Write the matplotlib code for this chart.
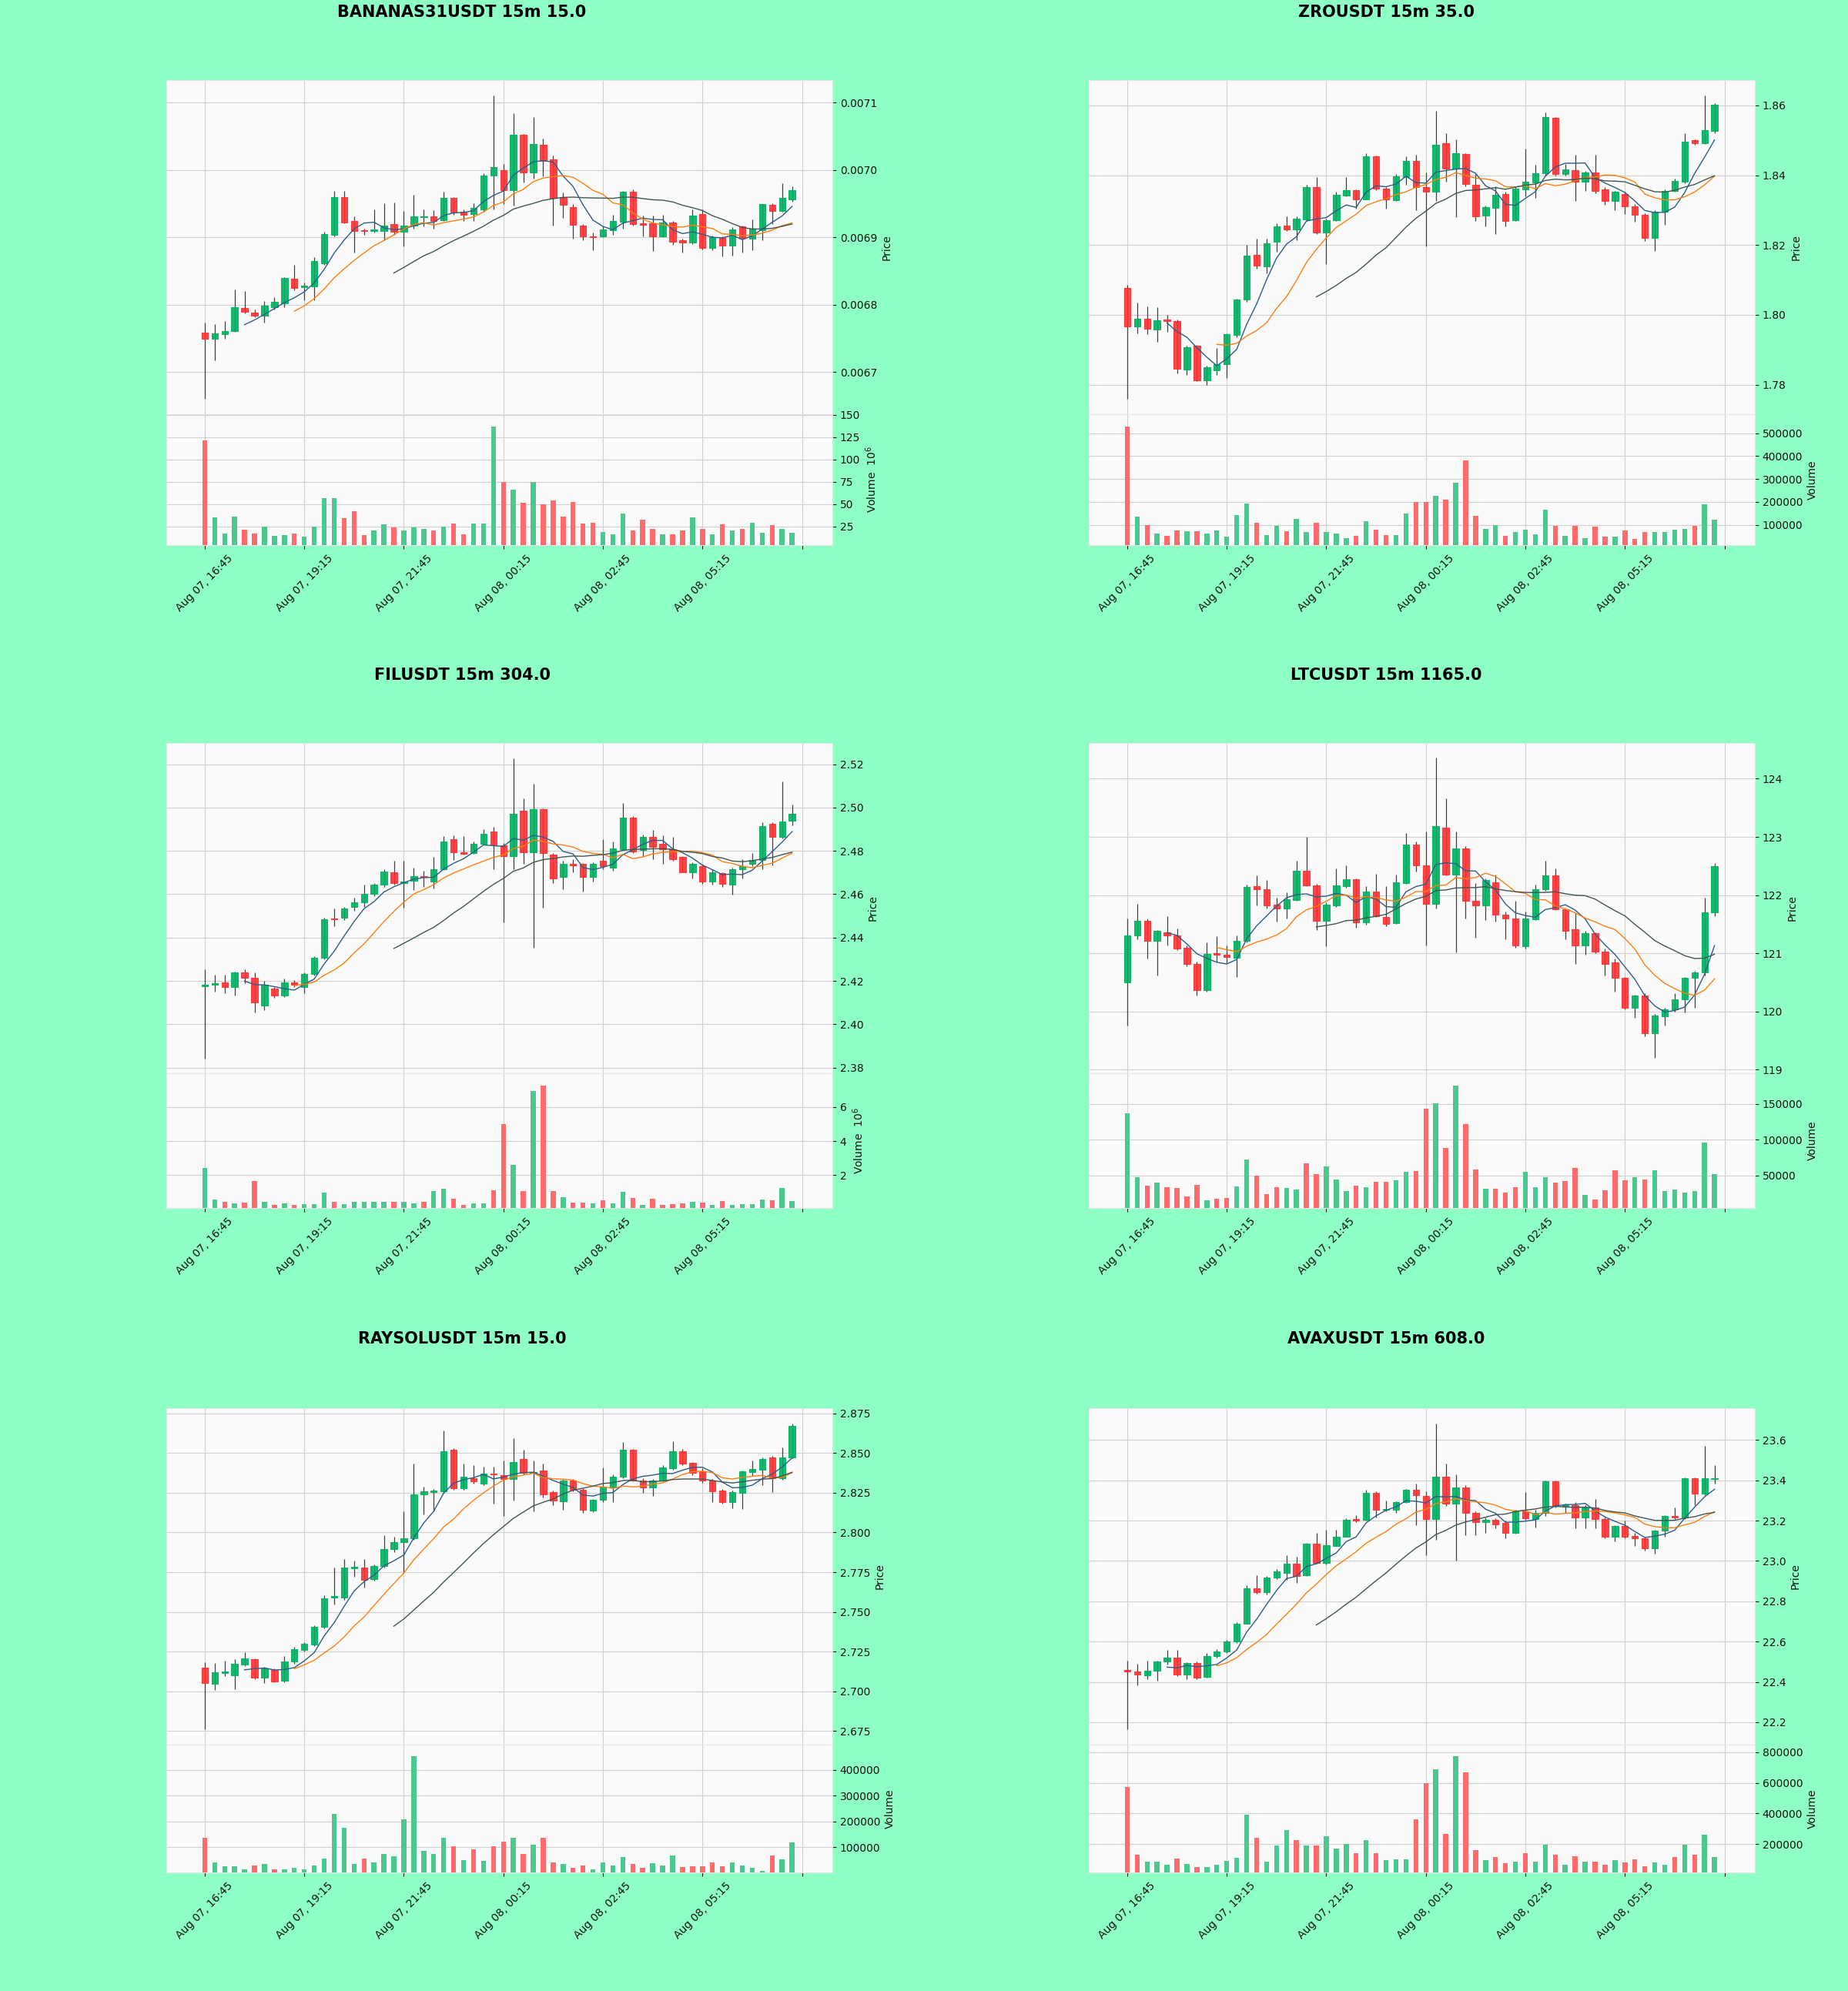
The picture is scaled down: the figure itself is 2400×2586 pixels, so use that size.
import matplotlib.pyplot as plt
from matplotlib.ticker import MultipleLocator, FormatStrFormatter
import numpy as np
import pandas as pd

# 15 minute candles, same time axis for every panel
times = pd.date_range("2025-08-07 16:45", periods=60, freq="15min")

# ---------------- BANANAS31USDT ----------------
banana_open = [0.006759, 0.006750, 0.006756, 0.006761, 0.006795, 0.006788, 0.006784, 0.006796, 0.006802, 0.006839,
               0.006826, 0.006827, 0.006862, 0.006904, 0.006960, 0.006924, 0.006911, 0.006910, 0.006910, 0.006920,
               0.006908, 0.006917, 0.006930, 0.006931, 0.006925, 0.006959, 0.006938, 0.006935, 0.006942, 0.006992,
               0.007000, 0.006970, 0.007052, 0.006996, 0.007037, 0.007016, 0.006960, 0.006945, 0.006918, 0.006902,
               0.006901, 0.006911, 0.006923, 0.006968, 0.006921, 0.006921, 0.006902, 0.006922, 0.006896, 0.006892,
               0.006935, 0.006884, 0.006899, 0.006888, 0.006916, 0.006898, 0.006911, 0.006948, 0.006939, 0.006956]
banana_high = [0.006773, 0.006771, 0.006776, 0.006823, 0.006820, 0.006793, 0.006805, 0.006811, 0.006841, 0.006859,
               0.006833, 0.006871, 0.006908, 0.006969, 0.006969, 0.006931, 0.006913, 0.006942, 0.006951, 0.006952,
               0.006939, 0.006963, 0.006941, 0.006940, 0.006968, 0.006960, 0.006942, 0.006951, 0.006995, 0.007111,
               0.007009, 0.007084, 0.007053, 0.007079, 0.007047, 0.007021, 0.006967, 0.006949, 0.006920, 0.006907,
               0.006916, 0.006933, 0.006969, 0.006971, 0.006932, 0.006932, 0.006933, 0.006924, 0.006898, 0.006942,
               0.006942, 0.006903, 0.006902, 0.006915, 0.006918, 0.006927, 0.006950, 0.006951, 0.006980, 0.006976]
banana_low = [0.006660, 0.006718, 0.006749, 0.006760, 0.006787, 0.006782, 0.006773, 0.006793, 0.006796, 0.006821,
              0.006807, 0.006807, 0.006859, 0.006902, 0.006921, 0.006878, 0.006904, 0.006907, 0.006896, 0.006904,
              0.006887, 0.006913, 0.006916, 0.006913, 0.006924, 0.006933, 0.006924, 0.006924, 0.006938, 0.006942,
              0.006949, 0.006947, 0.006981, 0.006987, 0.006991, 0.006918, 0.006929, 0.006898, 0.006896, 0.006881,
              0.006900, 0.006904, 0.006913, 0.006918, 0.006902, 0.006880, 0.006900, 0.006889, 0.006878, 0.006890,
              0.006882, 0.006881, 0.006872, 0.006873, 0.006878, 0.006881, 0.006896, 0.006920, 0.006938, 0.006953]
banana_close = [0.006749, 0.006757, 0.006761, 0.006796, 0.006789, 0.006784, 0.006799, 0.006804, 0.006840, 0.006825,
                0.006828, 0.006865, 0.006905, 0.006960, 0.006922, 0.006910, 0.006909, 0.006912, 0.006918, 0.006908,
                0.006917, 0.006931, 0.006931, 0.006924, 0.006959, 0.006937, 0.006934, 0.006944, 0.006992, 0.007004,
                0.006970, 0.007052, 0.006996, 0.007039, 0.007013, 0.006959, 0.006948, 0.006919, 0.006902, 0.006900,
                0.006912, 0.006924, 0.006968, 0.006920, 0.006919, 0.006902, 0.006922, 0.006893, 0.006892, 0.006932,
                0.006884, 0.006900, 0.006888, 0.006912, 0.006899, 0.006913, 0.006949, 0.006939, 0.006959, 0.006970]
banana_volume_m = [121, 35, 17, 36, 21, 17, 25, 14, 15, 17, 13, 25, 57, 57, 34, 42, 15, 20, 27, 24,
                   20, 24, 22, 20, 25, 28, 16, 28, 28, 137, 75, 66, 51, 75, 50, 54, 36, 52, 28, 29,
                   19, 16, 39, 20, 32, 22, 16, 16, 20, 35, 22, 16, 27, 20, 22, 29, 18, 26, 22, 18]

# ---------------- ZROUSDT ----------------
zro_open = [1.8077, 1.7967, 1.7990, 1.7958, 1.7986, 1.7982, 1.7843, 1.7911, 1.7812, 1.7842,
            1.7858, 1.7942, 1.8043, 1.8171, 1.8139, 1.8210, 1.8255, 1.8244, 1.8274, 1.8365,
            1.8236, 1.8272, 1.8341, 1.8358, 1.8331, 1.8455, 1.8362, 1.8329, 1.8395, 1.8442,
            1.8366, 1.8352, 1.8492, 1.8420, 1.8461, 1.8373, 1.8285, 1.8307, 1.8346, 1.8272,
            1.8360, 1.8380, 1.8405, 1.8565, 1.8403, 1.8414, 1.8382, 1.8408, 1.8360, 1.8326,
            1.8346, 1.8311, 1.8287, 1.8220, 1.8296, 1.8356, 1.8382, 1.8500, 1.8492, 1.8526]
zro_high = [1.8085, 1.8036, 1.8025, 1.8023, 1.8001, 1.7987, 1.7911, 1.7914, 1.7854, 1.7905,
            1.7948, 1.8047, 1.8201, 1.8219, 1.8219, 1.8262, 1.8283, 1.8283, 1.8373, 1.8395,
            1.8276, 1.8352, 1.8395, 1.8360, 1.8463, 1.8457, 1.8366, 1.8403, 1.8455, 1.8459,
            1.8408, 1.8584, 1.8521, 1.8502, 1.8463, 1.8403, 1.8313, 1.8369, 1.8352, 1.8365,
            1.8476, 1.8429, 1.8579, 1.8567, 1.8433, 1.8459, 1.8412, 1.8459, 1.8365, 1.8356,
            1.8352, 1.8317, 1.8292, 1.8300, 1.8360, 1.8390, 1.8521, 1.8502, 1.8629, 1.8607]
zro_low = [1.7759, 1.7948, 1.7945, 1.7922, 1.7952, 1.7832, 1.7828, 1.7811, 1.7800, 1.7828,
           1.7819, 1.7935, 1.8038, 1.8133, 1.8120, 1.8180, 1.8240, 1.8214, 1.8268, 1.8232,
           1.8146, 1.8268, 1.8339, 1.8305, 1.8330, 1.8358, 1.8305, 1.8326, 1.8373, 1.8300,
           1.8197, 1.8326, 1.8382, 1.8280, 1.8369, 1.8268, 1.8253, 1.8232, 1.8253, 1.8270,
           1.8339, 1.8335, 1.8399, 1.8399, 1.8399, 1.8326, 1.8354, 1.8349, 1.8315, 1.8300,
           1.8289, 1.8266, 1.8212, 1.8184, 1.8257, 1.8352, 1.8378, 1.8487, 1.8489, 1.8521]
zro_close = [1.7967, 1.7990, 1.7961, 1.7984, 1.7982, 1.7845, 1.7907, 1.7812, 1.7849, 1.7858,
             1.7945, 1.8043, 1.8170, 1.8140, 1.8206, 1.8253, 1.8244, 1.8276, 1.8365, 1.8236,
             1.8272, 1.8343, 1.8358, 1.8330, 1.8455, 1.8362, 1.8330, 1.8396, 1.8442, 1.8366,
             1.8352, 1.8487, 1.8420, 1.8463, 1.8375, 1.8283, 1.8309, 1.8345, 1.8270, 1.8362,
             1.8382, 1.8405, 1.8566, 1.8403, 1.8416, 1.8382, 1.8408, 1.8356, 1.8326, 1.8352,
             1.8311, 1.8286, 1.8220, 1.8296, 1.8356, 1.8384, 1.8496, 1.8492, 1.8530, 1.8603]
zro_volume = [530000, 134000, 99000, 62000, 50000, 76000, 73000, 71000, 63000, 76000,
              48000, 141000, 192000, 108000, 55000, 96000, 73000, 126000, 69000, 108000,
              69000, 62000, 41000, 50000, 117000, 80000, 55000, 55000, 150000, 199000,
              199000, 228000, 208000, 284000, 382000, 138000, 82000, 99000, 50000, 68000,
              80000, 57000, 166000, 96000, 50000, 96000, 41000, 93000, 48000, 48000,
              76000, 37000, 69000, 67000, 67000, 80000, 82000, 95000, 189000, 121000]

# ---------------- FILUSDT ----------------
fil_open = [2.4175, 2.4183, 2.4194, 2.4170, 2.4238, 2.4213, 2.4088, 2.4166, 2.4132, 2.4193,
            2.4170, 2.4231, 2.4306, 2.4487, 2.4490, 2.4540, 2.4562, 2.4603, 2.4643, 2.4703,
            2.4653, 2.4662, 2.4684, 2.4660, 2.4714, 2.4853, 2.4793, 2.4789, 2.4834, 2.4891,
            2.4825, 2.4775, 2.4984, 2.4792, 2.4993, 2.4782, 2.4680, 2.4741, 2.4739, 2.4680,
            2.4755, 2.4721, 2.4809, 2.4952, 2.4803, 2.4864, 2.4834, 2.4809, 2.4771, 2.4703,
            2.4730, 2.4657, 2.4698, 2.4643, 2.4714, 2.4741, 2.4758, 2.4925, 2.4864, 2.4939]
fil_high = [2.4254, 2.4227, 2.4227, 2.4243, 2.4254, 2.4238, 2.4200, 2.4170, 2.4211, 2.4204,
            2.4238, 2.4313, 2.4490, 2.4533, 2.4540, 2.4585, 2.4646, 2.4653, 2.4714, 2.4755,
            2.4755, 2.4721, 2.4707, 2.4771, 2.4867, 2.4871, 2.4869, 2.4843, 2.4901, 2.4911,
            2.4837, 2.5229, 2.5041, 2.5109, 2.4998, 2.4789, 2.4755, 2.4762, 2.4744, 2.4748,
            2.4853, 2.4843, 2.5020, 2.4959, 2.4875, 2.4898, 2.4871, 2.4864, 2.4775, 2.4748,
            2.4741, 2.4717, 2.4703, 2.4721, 2.4762, 2.4789, 2.4932, 2.4932, 2.5122, 2.5014]
fil_low = [2.3843, 2.4149, 2.4143, 2.4132, 2.4189, 2.4054, 2.4064, 2.4122, 2.4126, 2.4172,
           2.4145, 2.4224, 2.4299, 2.4453, 2.4480, 2.4524, 2.4540, 2.4592, 2.4632, 2.4643,
           2.4537, 2.4619, 2.4632, 2.4626, 2.4711, 2.4758, 2.4782, 2.4785, 2.4830, 2.4717,
           2.4469, 2.4714, 2.4741, 2.4354, 2.4537, 2.4653, 2.4622, 2.4701, 2.4612, 2.4660,
           2.4714, 2.4707, 2.4803, 2.4789, 2.4775, 2.4762, 2.4741, 2.4755, 2.4701, 2.4673,
           2.4649, 2.4646, 2.4632, 2.4598, 2.4673, 2.4730, 2.4717, 2.4735, 2.4857, 2.4918]
fil_close = [2.4181, 2.4190, 2.4172, 2.4241, 2.4213, 2.4099, 2.4183, 2.4132, 2.4193, 2.4181,
             2.4231, 2.4306, 2.4483, 2.4483, 2.4533, 2.4564, 2.4603, 2.4646, 2.4706, 2.4653,
             2.4660, 2.4684, 2.4681, 2.4714, 2.4843, 2.4793, 2.4788, 2.4834, 2.4880, 2.4826,
             2.4775, 2.4973, 2.4792, 2.4993, 2.4789, 2.4673, 2.4741, 2.4734, 2.4680, 2.4739,
             2.4728, 2.4812, 2.4952, 2.4796, 2.4864, 2.4820, 2.4809, 2.4762, 2.4703, 2.4741,
             2.4657, 2.4703, 2.4649, 2.4714, 2.4730, 2.4758, 2.4916, 2.4864, 2.4935, 2.4973]
fil_volume_m = [2.44, 0.60, 0.45, 0.36, 0.40, 1.64, 0.45, 0.28, 0.35, 0.28,
                0.33, 0.33, 0.99, 0.45, 0.33, 0.45, 0.45, 0.45, 0.45, 0.45,
                0.45, 0.36, 0.45, 1.08, 1.20, 0.63, 0.28, 0.35, 0.35, 1.13,
                4.99, 2.62, 1.08, 6.94, 7.24, 1.08, 0.72, 0.42, 0.42, 0.36,
                0.54, 0.36, 1.04, 0.68, 0.28, 0.63, 0.28, 0.31, 0.36, 0.45,
                0.42, 0.28, 0.51, 0.28, 0.31, 0.31, 0.60, 0.54, 1.24, 0.51]

# ---------------- LTCUSDT ----------------
ltc_open = [120.495, 121.311, 121.556, 121.209, 121.362, 121.311, 121.092, 120.816, 120.367, 120.995,
            120.970, 120.918, 121.209, 122.153, 122.102, 121.837, 121.770, 121.908, 122.423, 122.168,
            121.556, 121.821, 122.153, 122.270, 121.531, 122.066, 121.617, 121.515, 122.204, 122.867,
            122.510, 121.847, 123.158, 122.357, 122.801, 121.898, 121.821, 122.214, 121.668, 121.592,
            121.122, 121.582, 122.102, 122.332, 121.755, 121.413, 121.133, 121.347, 121.031, 120.837,
            120.571, 120.061, 120.276, 119.628, 119.920, 120.036, 120.204, 120.571, 120.673, 121.709]
ltc_high = [121.592, 121.847, 121.592, 121.400, 121.633, 121.429, 121.133, 120.852, 121.184, 121.286,
            121.133, 121.311, 122.179, 122.332, 122.255, 121.959, 122.051, 122.587, 122.995, 122.194,
            121.872, 122.459, 122.510, 122.280, 122.153, 122.367, 122.153, 122.347, 123.071, 122.918,
            123.097, 124.357, 123.658, 123.097, 122.842, 122.204, 122.281, 122.357, 121.719, 121.898,
            121.719, 122.179, 122.587, 122.459, 121.770, 121.694, 121.388, 121.362, 121.082, 120.903,
            120.597, 120.291, 120.316, 119.959, 120.061, 120.316, 120.597, 120.699, 121.949, 122.551]
ltc_low = [119.755, 121.235, 120.913, 120.622, 121.133, 121.056, 120.776, 120.276, 120.342, 120.852,
           120.827, 120.597, 121.184, 121.821, 121.770, 121.541, 121.592, 121.898, 122.153, 121.403,
           121.122, 121.796, 122.128, 121.439, 121.490, 121.617, 121.464, 121.500, 122.194, 122.408,
           121.133, 121.770, 122.332, 121.020, 121.592, 121.260, 121.566, 121.541, 121.245, 121.092,
           121.082, 121.566, 122.077, 121.745, 121.245, 120.816, 120.969, 121.005, 120.612, 120.342,
           120.036, 119.883, 119.577, 119.194, 119.755, 120.000, 119.985, 120.061, 120.622, 121.643]
ltc_close = [121.311, 121.556, 121.209, 121.388, 121.301, 121.082, 120.816, 120.367, 120.990, 120.969,
             120.930, 121.209, 122.143, 122.102, 121.821, 121.770, 121.923, 122.423, 122.168, 121.556,
             121.837, 122.163, 122.270, 121.531, 122.066, 121.633, 121.505, 122.214, 122.867, 122.510,
             121.847, 123.189, 122.357, 122.801, 121.898, 121.821, 122.255, 121.668, 121.592, 121.133,
             121.592, 122.102, 122.332, 121.755, 121.388, 121.133, 121.347, 121.031, 120.816, 120.571,
             120.061, 120.276, 119.628, 119.934, 120.036, 120.204, 120.571, 120.673, 121.709, 122.500]
ltc_volume = [136500, 47000, 36000, 39500, 34000, 32000, 20500, 36500, 15000, 17000,
              18400, 35000, 72000, 50000, 24000, 34000, 32000, 30000, 67000, 52000,
              62000, 44000, 28000, 36000, 34000, 41000, 41000, 43000, 55500, 56000,
              143000, 151000, 88000, 175000, 122000, 58000, 31000, 31000, 25500, 34000,
              55000, 34000, 48000, 39500, 42000, 60500, 22500, 16000, 29000, 57000,
              43000, 48000, 44000, 57000, 27600, 30000, 25500, 27600, 96000, 52000]

# ---------------- RAYSOLUSDT ----------------
ray_open = [2.7148, 2.7048, 2.7117, 2.7102, 2.7167, 2.7202, 2.7087, 2.7135, 2.7064, 2.7187,
            2.7262, 2.7294, 2.7408, 2.7590, 2.7590, 2.7775, 2.7779, 2.7706, 2.7789, 2.7894,
            2.7937, 2.7965, 2.8240, 2.8256, 2.8260, 2.8519, 2.8279, 2.8340, 2.8308, 2.8371,
            2.8360, 2.8335, 2.8462, 2.8375, 2.8390, 2.8254, 2.8198, 2.8327, 2.8269, 2.8140,
            2.8206, 2.8283, 2.8352, 2.8519, 2.8327, 2.8283, 2.8327, 2.8404, 2.8513, 2.8437,
            2.8385, 2.8327, 2.8263, 2.8192, 2.8250, 2.8383, 2.8396, 2.8471, 2.8340, 2.8473]
ray_high = [2.7183, 2.7179, 2.7192, 2.7202, 2.7244, 2.7206, 2.7154, 2.7144, 2.7221, 2.7279,
            2.7308, 2.7414, 2.7606, 2.7779, 2.7833, 2.7821, 2.7833, 2.7798, 2.7981, 2.7971,
            2.8135, 2.8433, 2.8288, 2.8273, 2.8644, 2.8529, 2.8433, 2.8423, 2.8413, 2.8413,
            2.8452, 2.8596, 2.8519, 2.8452, 2.8433, 2.8263, 2.8337, 2.8337, 2.8279, 2.8212,
            2.8410, 2.8365, 2.8571, 2.8525, 2.8340, 2.8337, 2.8423, 2.8577, 2.8525, 2.8442,
            2.8404, 2.8337, 2.8273, 2.8263, 2.8390, 2.8452, 2.8475, 2.8481, 2.8538, 2.8687]
ray_low = [2.6760, 2.7006, 2.7096, 2.7014, 2.7160, 2.7077, 2.7052, 2.7058, 2.7058, 2.7173,
           2.7250, 2.7283, 2.7398, 2.7548, 2.7577, 2.7721, 2.7654, 2.7698, 2.7779, 2.7875,
           2.7750, 2.7956, 2.8115, 2.8135, 2.8250, 2.8269, 2.8269, 2.8308, 2.8298, 2.8183,
           2.8106, 2.8202, 2.8365, 2.8135, 2.8221, 2.8173, 2.8144, 2.8260, 2.8125, 2.8129,
           2.8192, 2.8194, 2.8340, 2.8321, 2.8250, 2.8231, 2.8321, 2.8394, 2.8423, 2.8360,
           2.8313, 2.8194, 2.8183, 2.8154, 2.8150, 2.8356, 2.8298, 2.8256, 2.8333, 2.8467]
ray_close = [2.7052, 2.7121, 2.7125, 2.7171, 2.7206, 2.7087, 2.7144, 2.7062, 2.7187, 2.7264,
             2.7298, 2.7408, 2.7587, 2.7600, 2.7779, 2.7783, 2.7702, 2.7789, 2.7898, 2.7938,
             2.7965, 2.8240, 2.8260, 2.8265, 2.8510, 2.8279, 2.8352, 2.8321, 2.8371, 2.8365,
             2.8337, 2.8442, 2.8375, 2.8380, 2.8240, 2.8202, 2.8327, 2.8269, 2.8144, 2.8206,
             2.8288, 2.8352, 2.8519, 2.8327, 2.8283, 2.8327, 2.8410, 2.8510, 2.8433, 2.8375,
             2.8327, 2.8260, 2.8192, 2.8256, 2.8385, 2.8398, 2.8462, 2.8340, 2.8475, 2.8673]
ray_volume = [137000, 41000, 25000, 27000, 13000, 30000, 34000, 13000, 13000, 19000,
              13000, 30000, 56000, 228000, 176000, 34000, 56000, 41000, 75000, 66000,
              207000, 452000, 86000, 75000, 137000, 105000, 50000, 92000, 47000, 103000,
              123000, 137000, 73000, 109000, 137000, 41000, 36000, 19000, 30000, 13000,
              41000, 30000, 62000, 36000, 19000, 39000, 30000, 69000, 22000, 25000,
              25000, 41000, 25000, 41000, 28000, 19000, 8000, 67000, 53000, 120000]

# ---------------- AVAXUSDT ----------------
avax_open = [22.460, 22.452, 22.433, 22.455, 22.500, 22.521, 22.437, 22.495, 22.425, 22.528,
             22.551, 22.601, 22.690, 22.866, 22.846, 22.919, 22.942, 22.985, 22.929, 23.085,
             22.990, 23.076, 23.122, 23.209, 23.204, 23.338, 23.252, 23.252, 23.293, 23.353,
             23.323, 23.209, 23.417, 23.285, 23.364, 23.240, 23.191, 23.205, 23.187, 23.141,
             23.247, 23.209, 23.237, 23.394, 23.270, 23.278, 23.217, 23.267, 23.209, 23.119,
             23.172, 23.123, 23.111, 23.061, 23.152, 23.224, 23.217, 23.409, 23.334, 23.405]
avax_high = [22.505, 22.490, 22.505, 22.505, 22.558, 22.558, 22.498, 22.501, 22.543, 22.561,
             22.607, 22.698, 22.881, 22.929, 22.926, 22.960, 23.028, 23.020, 23.088, 23.141,
             23.156, 23.156, 23.212, 23.228, 23.353, 23.346, 23.300, 23.297, 23.358, 23.384,
             23.346, 23.682, 23.482, 23.429, 23.376, 23.247, 23.217, 23.212, 23.202, 23.255,
             23.343, 23.255, 23.399, 23.399, 23.285, 23.293, 23.278, 23.308, 23.217, 23.179,
             23.202, 23.141, 23.119, 23.156, 23.228, 23.267, 23.414, 23.414, 23.570, 23.474]
avax_low = [22.165, 22.384, 22.415, 22.407, 22.486, 22.430, 22.415, 22.415, 22.422, 22.521,
            22.543, 22.592, 22.687, 22.838, 22.834, 22.910, 22.907, 22.891, 22.925, 22.985,
            22.982, 23.073, 23.119, 23.194, 23.202, 23.217, 23.247, 23.240, 23.288, 23.179,
            23.028, 23.103, 23.273, 23.000, 23.126, 23.126, 23.141, 23.161, 23.111, 23.137,
            23.206, 23.167, 23.225, 23.267, 23.240, 23.161, 23.164, 23.161, 23.111, 23.096,
            23.111, 23.073, 23.050, 23.035, 23.119, 23.209, 23.209, 23.278, 23.328, 23.384]
avax_close = [22.452, 22.437, 22.455, 22.502, 22.521, 22.437, 22.495, 22.422, 22.528, 22.551,
              22.601, 22.690, 22.866, 22.846, 22.919, 22.947, 22.985, 22.925, 23.085, 22.990,
              23.078, 23.122, 23.206, 23.202, 23.338, 23.252, 23.258, 23.293, 23.353, 23.326,
              23.209, 23.417, 23.285, 23.364, 23.240, 23.191, 23.205, 23.182, 23.141, 23.247,
              23.212, 23.240, 23.394, 23.273, 23.278, 23.217, 23.267, 23.209, 23.119, 23.172,
              23.119, 23.111, 23.061, 23.152, 23.222, 23.217, 23.409, 23.334, 23.409, 23.409]
avax_volume = [572000, 131000, 84000, 84000, 62000, 103000, 71000, 51000, 47000, 62000,
               90000, 109000, 390000, 238000, 84000, 188000, 291000, 225000, 188000, 188000,
               253000, 169000, 201000, 141000, 225000, 141000, 94000, 98000, 98000, 360000,
               600000, 688000, 266000, 772000, 669000, 159000, 94000, 116000, 75000, 84000,
               141000, 84000, 197000, 131000, 66000, 122000, 84000, 84000, 66000, 94000,
               81000, 99000, 56000, 79000, 62000, 113000, 197000, 131000, 259000, 116000]

charts = [
    ("BANANAS31USDT 15m 15.0", banana_open, banana_high, banana_low, banana_close,
     np.array(banana_volume_m) * 1e6, 6, 0.0001, "%.4f", 25),
    ("ZROUSDT 15m 35.0", zro_open, zro_high, zro_low, zro_close,
     np.array(zro_volume), 0, 0.02, "%.2f", 100000),
    ("FILUSDT 15m 304.0", fil_open, fil_high, fil_low, fil_close,
     np.array(fil_volume_m) * 1e6, 6, 0.02, "%.2f", 2),
    ("LTCUSDT 15m 1165.0", ltc_open, ltc_high, ltc_low, ltc_close,
     np.array(ltc_volume), 0, 1, "%d", 50000),
    ("RAYSOLUSDT 15m 15.0", ray_open, ray_high, ray_low, ray_close,
     np.array(ray_volume), 0, 0.025, "%.3f", 100000),
    ("AVAXUSDT 15m 608.0", avax_open, avax_high, avax_low, avax_close,
     np.array(avax_volume), 0, 0.2, "%.1f", 200000),
]

UP, DOWN = "#00b060", "#fe3032"
VOL_UP, VOL_DOWN = "#4dc790", "#fd6b6c"
WICK = "#404040"
MA_PERIODS = [5, 10, 20]
MA_COLORS = ["#2b5d87", "#ff7f0e", "#3f5652"]
FIG_BG = "#8effc5"
TXT = "#101010"

W, H = 2400, 2586
fig = plt.figure(figsize=(24, 25.86), dpi=100, facecolor=FIG_BG)

lefts = [216, 1414]
panel_w = 865
row_tops = [104, 965, 1829]
row_mids = [538, 1394, 2266]
row_bots = [708, 1569, 2432]
title_y = [16, 877, 1739]
title_x = [600, 1800]

x = np.arange(60)
tick_pos = list(range(0, 61, 10))
tick_lab = [times[i].strftime("%b %d, %H:%M") if i < 60 else "" for i in tick_pos]


def style_axis(ax):
    ax.set_facecolor("#fafafa")
    ax.grid(True, color="#d0d0d0", linewidth=0.8)
    ax.set_axisbelow(True)
    for s in ax.spines.values():
        s.set_color("#e6e6e6")
    ax.yaxis.tick_right()
    ax.yaxis.set_label_position("right")
    ax.tick_params(colors=TXT, labelsize=10)
    ax.set_xlim(-3.86, 63.05)
    ax.set_xticks(tick_pos)


for k, (title, o, h, l, c, vol, vexp, pstep, pfmt, vstep) in enumerate(charts):
    row, col = divmod(k, 2)
    o, h, l, c = map(np.array, (o, h, l, c))
    left = lefts[col] / W
    width = panel_w / W
    top, mid, bot = row_tops[row], row_mids[row], row_bots[row]

    ax = fig.add_axes([left, 1 - mid / H, width, (mid - top) / H])
    axv = fig.add_axes([left, 1 - bot / H, width, (bot - mid) / H], sharex=ax)
    style_axis(ax)
    style_axis(axv)

    up = c >= o
    colors = np.where(up, UP, DOWN)
    ax.vlines(x, l, h, color=WICK, linewidth=0.9, zorder=2)
    ax.bar(x, np.abs(c - o), bottom=np.minimum(o, c), width=0.65,
           color=colors, edgecolor=colors, linewidth=0.8, alpha=0.9, zorder=3)

    close = pd.Series(c)
    for n, mc in zip(MA_PERIODS, MA_COLORS):
        ax.plot(x, close.rolling(n).mean(), color=mc, linewidth=1.0, zorder=4)

    pad = 0.05 * (h.max() - l.min())
    ax.set_ylim(l.min() - pad, h.max() + pad)
    ax.yaxis.set_major_locator(MultipleLocator(pstep))
    ax.yaxis.set_major_formatter(FormatStrFormatter(pfmt))
    ax.set_ylabel("Price", color=TXT, fontsize=10)
    plt.setp(ax.get_xticklabels(), visible=False)

    v = vol / 10 ** vexp
    axv.bar(x, v, width=0.5, color=np.where(up, VOL_UP, VOL_DOWN), zorder=3)
    axv.set_ylim(0.3 * v.min(), 1.1 * v.max())
    axv.yaxis.set_major_locator(MultipleLocator(vstep))
    axv.yaxis.set_major_formatter(FormatStrFormatter("%d"))
    vlabel = "Volume  $10^{%d}$" % vexp if vexp else "Volume"
    axv.set_ylabel(vlabel, color=TXT, fontsize=10)
    axv.set_xticklabels(tick_lab, rotation=45, ha="center")

    fig.text(title_x[col] / W, 1 - title_y[row] / H, title, ha="center", va="center",
             fontsize=15, fontweight="bold", color="black")

fig.savefig("out.png", dpi=100, facecolor=FIG_BG)
